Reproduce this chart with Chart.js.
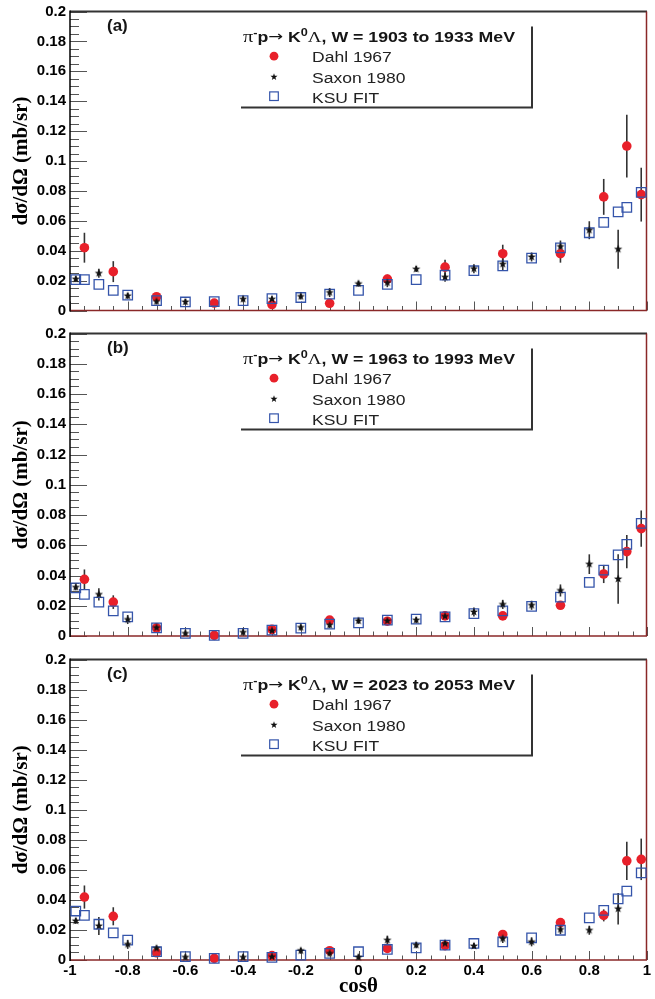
<!DOCTYPE html>
<html>
<head>
<meta charset="utf-8">
<script src="https://cdn.jsdelivr.net/npm/chart.js@4.4.1/dist/chart.umd.min.js"></script>
<style>
  body { margin: 0; background: #fff; }
  #wrap { position: relative; width: 655px; height: 999px; overflow: hidden; }
  #wrap canvas { position: absolute; left: 0; }
</style>
</head>
<body>
<div id="wrap">
  <canvas id="panelA" width="655" height="322" style="top:0"></canvas>
  <canvas id="panelB" width="655" height="326" style="top:322px"></canvas>
  <canvas id="panelC" width="655" height="351" style="top:648px"></canvas>
</div>
<script>
// cos(theta) bins of each data set
const cosDahl = [-0.95, -0.85, -0.7, -0.5, -0.3, -0.1, 0.1, 0.3, 0.5, 0.7, 0.85, 0.93, 0.98];
const cosSaxon = [-0.98, -0.9, -0.8, -0.7, -0.6, -0.4, -0.3, -0.2, -0.1, 0, 0.1, 0.2, 0.3, 0.4, 0.5, 0.6, 0.7, 0.8, 0.9];
const cosKsu = [-0.98, -0.95, -0.9, -0.85, -0.8, -0.7, -0.6, -0.5, -0.4, -0.3, -0.2, -0.1, 0,
  0.1, 0.2, 0.3, 0.4, 0.5, 0.6, 0.7, 0.8, 0.85, 0.9, 0.93, 0.98];

// (a) W = 1903 to 1933 MeV
const dahlA = [0.042, 0.026, 0.0092, 0.005, 0.004, 0.0048, 0.021, 0.029, 0.038, 0.038, 0.076, 0.110, 0.0775];
const dahlErrA = [0.010, 0.007, 0.002, 0.002, 0.002, 0.002, 0.003, 0.005, 0.006, 0.006, 0.012, 0.021, 0.018];
const saxonA = [0.021, 0.0249, 0.0098, 0.006, 0.0057, 0.0076, 0.0076, 0.0094, 0.012, 0.0179, 0.0186, 0.0277,
  0.0223, 0.028, 0.031, 0.0358, 0.0428, 0.0537, 0.041];
const saxonErrA = [0.002, 0.003, 0.002, 0.002, 0.002, 0.002, 0.002, 0.002, 0.003, 0.002, 0.003, 0.002,
  0.003, 0.003, 0.004, 0.003, 0.004, 0.006, 0.013];
const ksuA = [0.0207, 0.0207, 0.0175, 0.0135, 0.0103, 0.0066, 0.0057, 0.006, 0.0066, 0.008, 0.0087, 0.0109, 0.0135,
  0.0175, 0.0207, 0.0236, 0.0266, 0.0299, 0.035, 0.0419, 0.052, 0.059, 0.066, 0.069, 0.079];

// (b) W = 1963 to 1993 MeV
const dahlB = [0.0375, 0.0224, 0.0054, 0.0004, 0.0044, 0.0105, 0.0098, 0.0133, 0.0133, 0.0203, 0.041, 0.0558, 0.071];
const dahlErrB = [0.0065, 0.0045, 0.002, 0.001, 0.002, 0.002, 0.002, 0.002, 0.002, 0.002, 0.006, 0.011, 0.012];
const saxonB = [0.0322, 0.0275, 0.0109, 0.0055, 0.0017, 0.0024, 0.0035, 0.0057, 0.0072, 0.01, 0.01, 0.0105,
  0.013, 0.0159, 0.0209, 0.0203, 0.0301, 0.0475, 0.0377];
const saxonErrB = [0.002, 0.004, 0.003, 0.002, 0.002, 0.002, 0.002, 0.002, 0.002, 0.002, 0.002, 0.002,
  0.002, 0.003, 0.003, 0.003, 0.004, 0.0065, 0.0163];
const ksuB = [0.0318, 0.0275, 0.0224, 0.0166, 0.0126, 0.0054, 0.0017, 0.0004, 0.0017, 0.0039, 0.0052, 0.0078, 0.0087,
  0.0105, 0.0111, 0.0126, 0.0148, 0.0166, 0.0196, 0.0257, 0.0355, 0.0436, 0.0536, 0.0606, 0.0745];

// (c) W = 2023 to 2053 MeV
const dahlC = [0.0419, 0.0291, 0.0048, 0.0011, 0.0029, 0.0062, 0.0077, 0.0095, 0.017, 0.0249, 0.0297, 0.066, 0.067];
const dahlErrC = [0.0077, 0.006, 0.002, 0.001, 0.002, 0.002, 0.002, 0.002, 0.002, 0.003, 0.004, 0.0127, 0.0138];
const saxonC = [0.026, 0.0227, 0.0104, 0.0077, 0.0018, 0.0018, 0.0022, 0.0062, 0.0044, 0.0018, 0.0132, 0.0099,
  0.011, 0.0093, 0.0143, 0.0121, 0.0203, 0.0198, 0.0341];
const saxonErrC = [0.002, 0.006, 0.003, 0.002, 0.002, 0.002, 0.002, 0.002, 0.002, 0.002, 0.003, 0.002,
  0.002, 0.002, 0.003, 0.003, 0.003, 0.003, 0.0105];
const ksuC = [0.0326, 0.0297, 0.0238, 0.018, 0.0132, 0.0055, 0.0022, 0.0011, 0.0022, 0.0018, 0.0033, 0.0044, 0.0055,
  0.007, 0.0081, 0.0099, 0.011, 0.0121, 0.0148, 0.0198, 0.028, 0.033, 0.0407, 0.0458, 0.058];

const panelLabels = ['(a)', '(b)', '(c)'];
const wRanges = ['1903 to 1933', '1963 to 1993', '2023 to 2053'];
const seriesNames = ['Dahl 1967', 'Saxon 1980', 'KSU FIT'];

const yTicks = [0, 0.02, 0.04, 0.06, 0.08, 0.1, 0.12, 0.14, 0.16, 0.18, 0.2];
const yTickLabels = ['0', '0.02', '0.04', '0.06', '0.08', '0.1', '0.12', '0.14', '0.16', '0.18', '0.2'];
const xTicks = [-1, -0.8, -0.6, -0.4, -0.2, 0, 0.2, 0.4, 0.6, 0.8, 1];
const xTickLabels = ['-1', '-0.8', '-0.6', '-0.4', '-0.2', '0', '0.2', '0.4', '0.6', '0.8', '1'];

const RED = '#e8202a';
const BLUE = '#3454aa';
const SANS = "'Liberation Sans', Arial, sans-serif";
const SERIF = "'Liberation Serif', 'Times New Roman', serif";

function drawStar(g, cx, cy, ro, ri) {
  g.beginPath();
  for (let i = 0; i < 10; i++) {
    const r = i % 2 ? ri : ro;
    const a = -Math.PI / 2 + i * Math.PI / 5;
    g.lineTo(cx + r * Math.cos(a), cy + r * Math.sin(a));
  }
  g.closePath();
  g.fillStyle = '#111';
  g.fill();
}

const starImg = document.createElement('canvas');
starImg.width = 12;
starImg.height = 12;
drawStar(starImg.getContext('2d'), 6, 6, 4.4, 1.8);

const pts = (xs, ys) => xs.map((x, i) => ({ x, y: ys[i] }));

// ROOT-like frame with ticks pointing inwards
const rootFrame = {
  id: 'rootFrame',
  beforeDatasetsDraw(chart) {
    const { ctx, chartArea: a, scales: { x, y } } = chart;
    ctx.save();
    ctx.strokeStyle = '#555';
    ctx.lineWidth = 1;
    ctx.beginPath();
    for (let k = 0; k <= 40; k++) {
      const py = Math.round(y.getPixelForValue(k * 0.005)) + 0.5;
      ctx.moveTo(a.left, py);
      ctx.lineTo(a.left + (k % 4 ? 9 : 17), py);
    }
    for (let k = 0; k <= 40; k++) {
      const px = Math.round(x.getPixelForValue(-1 + k * 0.05)) + 0.5;
      ctx.moveTo(px, a.bottom);
      ctx.lineTo(px, a.bottom - (k % 4 ? 4.5 : 9));
    }
    ctx.stroke();

    ctx.lineWidth = 2;
    ctx.strokeStyle = '#333';
    ctx.beginPath();
    ctx.moveTo(a.left, a.top);
    ctx.lineTo(a.right, a.top);
    ctx.stroke();

    ctx.lineWidth = 1.5;
    ctx.strokeStyle = '#8a2828';
    ctx.beginPath();
    ctx.moveTo(a.right - 0.5, a.top);
    ctx.lineTo(a.right - 0.5, a.bottom);
    ctx.moveTo(a.left, a.bottom);
    ctx.lineTo(a.right, a.bottom);
    ctx.stroke();

    ctx.strokeStyle = '#000';
    ctx.beginPath();
    ctx.moveTo(a.left, a.top - 1);
    ctx.lineTo(a.left, a.bottom + 1);
    ctx.stroke();
    ctx.restore();
  }
};

const errorBars = {
  id: 'errorBars',
  beforeDatasetsDraw(chart) {
    const { ctx, scales: { x, y } } = chart;
    ctx.save();
    ctx.strokeStyle = '#333';
    ctx.lineWidth = 1.6;
    chart.data.datasets.forEach(ds => {
      if (!ds.errors) return;
      ds.data.forEach((p, i) => {
        const e = ds.errors[i];
        const px = x.getPixelForValue(p.x);
        ctx.beginPath();
        ctx.moveTo(px, y.getPixelForValue(Math.max(0, p.y - e)));
        ctx.lineTo(px, y.getPixelForValue(p.y + e));
        ctx.stroke();
      });
    });
    ctx.restore();
  }
};

function drawReaction(ctx, x, y, range, width) {
  const parts = [
    ['π', '16px ' + SERIF, 0],
    ['-', 'bold 10px ' + SANS, -6],
    ['p', 'bold 14px ' + SANS, 0],
    ['→', "14px 'DejaVu Sans', sans-serif", -1],
    [' K', 'bold 14px ' + SANS, 0],
    ['0', 'bold 10px ' + SANS, -6],
    ['Λ', '15px ' + SERIF, 0],
    [', W = ' + range + ' MeV', 'bold 14px ' + SANS, 0]
  ];
  let total = 0;
  parts.forEach(p => { ctx.font = p[1]; total += ctx.measureText(p[0]).width; });
  ctx.save();
  ctx.translate(x, y);
  ctx.scale(width / total, 1);
  let cx = 0;
  parts.forEach(p => {
    ctx.font = p[1];
    ctx.fillText(p[0], cx, p[2]);
    cx += ctx.measureText(p[0]).width;
  });
  ctx.restore();
}

const rootLegend = {
  id: 'rootLegend',
  afterDraw(chart, args, opts) {
    const { ctx, chartArea: a } = chart;
    const l = a.left, t = a.top;
    ctx.save();
    ctx.fillStyle = '#151515';
    ctx.textBaseline = 'alphabetic';
    ctx.font = 'bold 17px ' + SANS;
    ctx.fillText(opts.panel, l + 37, t + 19);

    ctx.strokeStyle = '#333';
    ctx.lineWidth = 2;
    ctx.beginPath();
    ctx.moveTo(l + 171, t + 96);
    ctx.lineTo(l + 462, t + 96);
    ctx.lineTo(l + 462, t + 15);
    ctx.stroke();

    drawReaction(ctx, l + 173, t + 30, opts.range, 272);

    const mx = l + 204;
    ctx.fillStyle = RED;
    ctx.beginPath();
    ctx.arc(mx, t + 44.7, 4.4, 0, Math.PI * 2);
    ctx.fill();
    drawStar(ctx, mx, t + 65.5, 3.7, 1.5);
    ctx.strokeStyle = BLUE;
    ctx.lineWidth = 1.2;
    ctx.strokeRect(mx - 4.3, t + 84.7 - 4.3, 8.6, 8.6);

    ctx.fillStyle = '#222';
    ctx.font = '15.5px ' + SANS;
    [50, 71, 91].forEach((dy, i) => {
      ctx.save();
      ctx.translate(l + 242, t + dy);
      ctx.scale(1.13, 1);
      ctx.fillText(seriesNames[i], 0, 0);
      ctx.restore();
    });
    ctx.restore();
  }
};

function makePanel(p) {
  const tickFont = { family: SANS, size: 15, weight: 'bold', lineHeight: 1 };
  const titleFont = { family: SERIF, size: 21, weight: 'bold' };
  return new Chart(document.getElementById(p.id), {
    type: 'scatter',
    data: {
      datasets: [
        {
          label: seriesNames[1], data: pts(cosSaxon, p.saxon), errors: p.saxonErr,
          pointStyle: starImg, pointRadius: 4, order: 1
        },
        {
          label: seriesNames[2], data: pts(cosKsu, p.ksu),
          pointStyle: 'rect', pointRadius: 6.7, borderColor: BLUE, borderWidth: 1.3,
          backgroundColor: 'rgba(0,0,0,0)', order: 2
        },
        {
          label: seriesNames[0], data: pts(cosDahl, p.dahl), errors: p.dahlErr,
          pointStyle: 'circle', pointRadius: 4.8, backgroundColor: RED, borderWidth: 0, order: 3
        }
      ]
    },
    options: {
      responsive: false,
      animation: false,
      devicePixelRatio: 1,
      events: [],
      clip: false,
      layout: { padding: p.padding },
      plugins: {
        legend: { display: false },
        tooltip: { enabled: false },
        rootLegend: { panel: p.label, range: p.range }
      },
      scales: {
        x: {
          type: 'linear', min: -1, max: 1,
          display: p.bottom,
          afterBuildTicks: s => { s.ticks = xTicks.map(v => ({ value: v })); },
          afterFit: s => {
            s.height = p.bottom ? 39 : 0;
            s.paddingLeft = 0;
            s.paddingRight = 0;
          },
          grid: { display: false, drawTicks: false },
          border: { display: false },
          ticks: {
            padding: 3, maxRotation: 0, autoSkip: false, color: '#000', font: tickFont,
            callback: (v, i) => xTickLabels[i]
          },
          title: { display: true, text: 'cosθ', color: '#000', font: titleFont, padding: { top: 0, bottom: 0 } }
        },
        y: {
          type: 'linear', min: 0, max: 0.2,
          afterBuildTicks: s => { s.ticks = yTicks.map(v => ({ value: v })); },
          afterFit: s => { s.width = 70; },
          grid: { display: false, drawTicks: false },
          border: { display: false },
          ticks: {
            padding: 4, color: '#000', font: tickFont,
            callback: (v, i) => yTickLabels[i]
          },
          title: { display: true, text: 'dσ/dΩ (mb/sr)', color: '#000', font: titleFont, padding: { top: 9, bottom: 0 } }
        }
      }
    },
    plugins: [rootFrame, errorBars, rootLegend]
  });
}

const panels = [
  { id: 'panelA', label: panelLabels[0], range: wRanges[0], bottom: false,
    padding: { top: 8, bottom: 9, left: 0, right: 1 },
    dahl: dahlA, dahlErr: dahlErrA, saxon: saxonA, saxonErr: saxonErrA, ksu: ksuA },
  { id: 'panelB', label: panelLabels[1], range: wRanges[1], bottom: false,
    padding: { top: 8, bottom: 12, left: 0, right: 1 },
    dahl: dahlB, dahlErr: dahlErrB, saxon: saxonB, saxonErr: saxonErrB, ksu: ksuB },
  { id: 'panelC', label: panelLabels[2], range: wRanges[2], bottom: true,
    padding: { top: 9, bottom: 0, left: 0, right: 1 },
    dahl: dahlC, dahlErr: dahlErrC, saxon: saxonC, saxonErr: saxonErrC, ksu: ksuC }
];

panels.forEach(makePanel);
</script>
</body>
</html>
